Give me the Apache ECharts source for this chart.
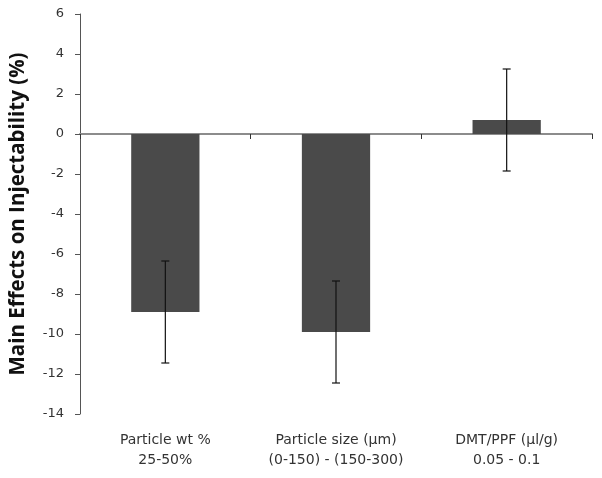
<!DOCTYPE html>
<html><head><meta charset="utf-8">
<script src="https://cdn.jsdelivr.net/npm/echarts@6/dist/echarts.min.js"></script>
<style>html,body{margin:0;padding:0;background:#fff}#c{width:602px;height:478px}</style>
</head><body><div id="c"></div>
<script>
var categories = ['Particle wt %\n25-50%', 'Particle size (\u00b5m)\n(0-150) - (150-300)', 'DMT/PPF (\u00b5l/g)\n0.05 - 0.1'];
var values = [-8.9, -9.9, 0.7];
var errors = [2.55, 2.55, 2.55];
var yTicks = { min: -14, max: 6, interval: 2 };

var errData = values.map(function (v, i) { return [i, v - errors[i], v + errors[i]]; });

var chart = echarts.init(document.getElementById('c'));
chart.setOption({
  animation: false,
  grid: { left: 80, right: 10, top: 14, bottom: 64 },
  xAxis: [{
    type: 'category', data: categories,
    axisLine: { show: false, onZero: false }, axisTick: { show: false },
    axisLabel: { interval: 0, hideOverlap: false, color: '#333', fontFamily: 'DejaVu Sans', fontSize: 14, margin: 16, lineHeight: 20 }
  }, {
    type: 'category', data: categories, position: 'bottom',
    axisLine: { onZero: true, lineStyle: { color: '#8c8c8c', width: 2 } },
    axisTick: { show: true, length: 5, lineStyle: { color: '#333' } },
    axisLabel: { show: false }
  }],
  yAxis: {
    type: 'value', min: yTicks.min, max: yTicks.max, interval: yTicks.interval,
    name: 'Main Effects on Injectability (%)', nameLocation: 'middle', nameGap: 51,
    nameTextStyle: { fontFamily: 'Open Sans', fontSize: 20.5, fontWeight: 'bold', color: '#111' },
    axisLine: { show: true, lineStyle: { color: '#555' } },
    axisTick: { show: true, length: 5, lineStyle: { color: '#555' } },
    splitLine: { show: false },
    axisLabel: { color: '#333', fontFamily: 'DejaVu Sans', fontSize: 13, margin: 16 }
  },
  series: [{
    type: 'bar', data: values, barWidth: '40%', xAxisIndex: 0,
    itemStyle: { color: '#4a4a4a' }
  }, {
    type: 'custom', xAxisIndex: 0, data: errData, z: 10,
    renderItem: function (params, api) {
      var x = api.value(0);
      var lo = api.coord([x, api.value(1)]);
      var hi = api.coord([x, api.value(2)]);
      var w = 4;
      var st = { stroke: '#111', lineWidth: 1.2 };
      return { type: 'group', children: [
        { type: 'line', shape: { x1: lo[0], y1: lo[1], x2: hi[0], y2: hi[1] }, style: st },
        { type: 'line', shape: { x1: lo[0] - w, y1: lo[1], x2: lo[0] + w, y2: lo[1] }, style: st },
        { type: 'line', shape: { x1: hi[0] - w, y1: hi[1], x2: hi[0] + w, y2: hi[1] }, style: st }
      ] };
    }
  }]
});
</script></body></html>
